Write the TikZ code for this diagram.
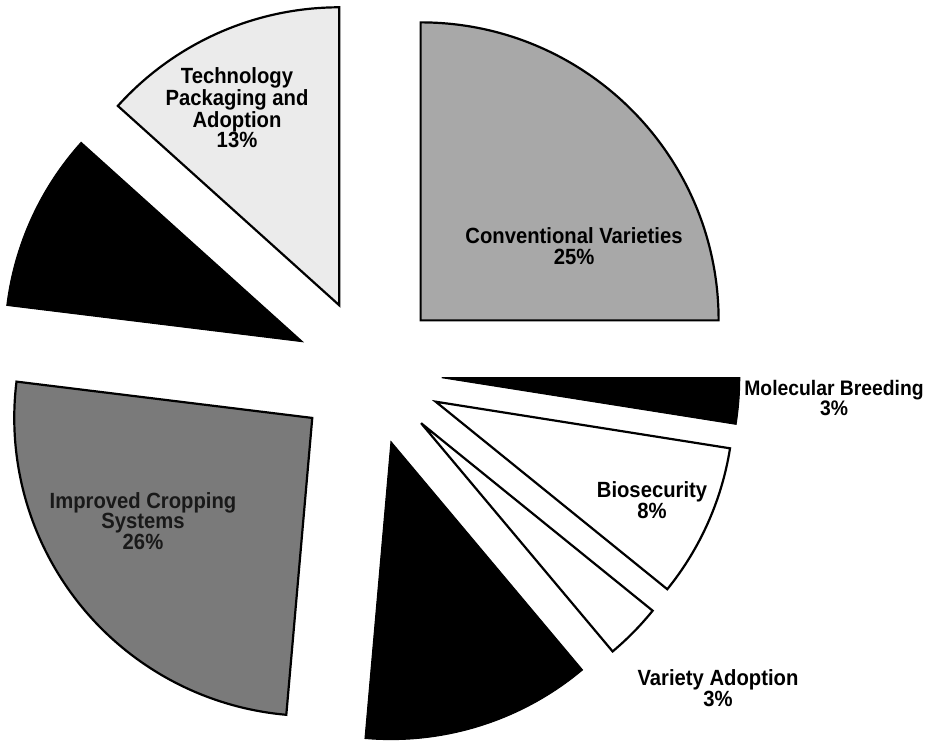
\documentclass[tikz,border=0pt]{standalone}
\usepackage{fontspec}
\setmainfont[FakeStretch=0.92]{Liberation Sans}
\usepackage{tikz}
\usetikzlibrary{calc}
\definecolor{convgray}{gray}{0.66}
\definecolor{techgray}{gray}{0.92}
\definecolor{cropgray}{gray}{0.48}
\tikzset{slice/.style={draw=black, line width=2.2pt, line join=miter}}
\tikzset{blackslice/.style={fill=black, draw=black, line width=1pt}}
\tikzset{pielabel/.style={align=center, font=\bfseries\fontsize{22}{20.5}\selectfont}}
\newcommand{\pierad}{298}
\newcommand{\pieexpl}{73}
% start angle, end angle, style
\newcommand{\pieslice}[3]{
  \draw[#3] ($(C)+({(#1+#2)/2}:\pieexpl)$) -- ++(#1:\pierad) arc (#1:#2:\pierad) -- cycle;}

\begin{document}
\begin{tikzpicture}[x=1pt, y=1pt]
    \useasboundingbox (0,0) rectangle (928,741);
    \coordinate (C) at (369, 369);

    \pieslice{0}{90}{slice, fill=convgray}
    \pieslice{90}{138}{slice, fill=techgray}
    \pieslice{138}{173}{blackslice}
    \pieslice{173}{265}{slice, fill=cropgray}
    \pieslice{265}{310}{blackslice}
    \pieslice{310}{321}{slice, fill=white}
    \pieslice{321}{351}{slice, fill=white}
    \pieslice{351}{360}{blackslice}

    \node [pielabel] (conv) at (574, 495) {Conventional Varieties\\25\%};
    \node [pielabel] (tech) at (237, 633) {Technology\\Packaging and\\Adoption\\13\%};
    \node [pielabel, text=black!90] (crop) at (143, 220) {Improved Cropping\\Systems\\26\%};
    \node [pielabel, font=\bfseries\fontsize{21}{20.5}\selectfont] (molec) at (834, 343) {Molecular Breeding\\3\%};
    \node [pielabel] (biosec) at (652, 241) {Biosecurity\\8\%};
    \node [pielabel] (variety) at (718, 53) {Variety Adoption\\3\%};
\end{tikzpicture}
\end{document}
